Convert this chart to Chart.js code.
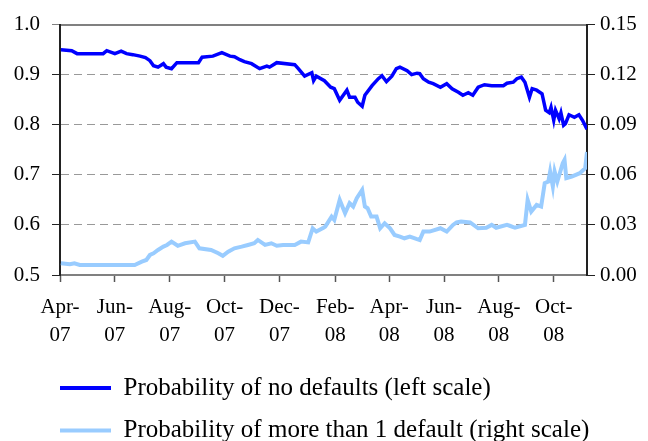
<!DOCTYPE html>
<html>
<head>
<meta charset="utf-8">
<script src="https://cdn.jsdelivr.net/npm/chart.js@4.4.1/dist/chart.umd.min.js"></script>
<style>
    html, body { margin: 0; padding: 0; background: #fff; }
    #wrap { width: 648px; height: 441px; }
</style>
</head>
<body>
<div id="wrap"><canvas id="prob-chart"></canvas></div>
<script>
// Probability of no defaults (left scale)
const noDefaultDates = [
    '2007-04-02', '2007-04-14', '2007-04-20', '2007-05-19', '2007-05-23', '2007-06-01', '2007-06-08',
    '2007-06-14', '2007-06-21', '2007-06-29', '2007-07-05', '2007-07-10', '2007-07-14', '2007-07-19',
    '2007-07-25', '2007-07-28', '2007-08-03', '2007-08-09', '2007-09-02', '2007-09-06', '2007-09-18',
    '2007-09-28', '2007-10-07', '2007-10-12', '2007-10-18', '2007-10-23', '2007-10-31', '2007-11-09',
    '2007-11-17', '2007-11-20', '2007-11-28', '2007-12-18', '2007-12-22', '2007-12-29', '2008-01-06',
    '2008-01-08', '2008-01-11', '2008-01-20', '2008-01-27', '2008-01-31', '2008-02-06', '2008-02-14',
    '2008-02-17', '2008-02-23', '2008-02-26', '2008-03-02', '2008-03-05', '2008-03-13', '2008-03-20',
    '2008-03-24', '2008-03-29', '2008-04-04', '2008-04-09', '2008-04-13', '2008-04-21', '2008-04-26',
    '2008-05-02', '2008-05-05', '2008-05-09', '2008-05-15', '2008-05-20', '2008-05-28', '2008-06-04',
    '2008-06-10', '2008-06-17', '2008-06-22', '2008-06-28', '2008-07-03', '2008-07-09', '2008-07-16',
    '2008-07-24', '2008-08-06', '2008-08-10', '2008-08-17', '2008-08-21', '2008-08-26', '2008-08-30',
    '2008-09-04', '2008-09-07', '2008-09-12', '2008-09-18', '2008-09-22', '2008-09-26', '2008-09-28',
    '2008-10-01', '2008-10-03', '2008-10-07', '2008-10-09', '2008-10-12', '2008-10-14', '2008-10-18',
    '2008-10-24', '2008-10-29', '2008-11-02', '2008-11-07'
];
const noDefaultValues = [
    0.950, 0.948, 0.942, 0.942, 0.948, 0.942, 0.947,
    0.942, 0.940, 0.937, 0.934, 0.928, 0.918, 0.915,
    0.922, 0.915, 0.912, 0.924, 0.924, 0.935, 0.937,
    0.944, 0.937, 0.936, 0.930, 0.926, 0.922, 0.912,
    0.917, 0.915, 0.924, 0.920, 0.912, 0.897, 0.904,
    0.888, 0.897, 0.888, 0.875, 0.872, 0.849, 0.869,
    0.855, 0.855, 0.845, 0.837, 0.859, 0.878, 0.892,
    0.898, 0.886, 0.897, 0.912, 0.915, 0.908, 0.900,
    0.903, 0.902, 0.892, 0.885, 0.882, 0.875, 0.882,
    0.872, 0.865, 0.859, 0.864, 0.859, 0.875, 0.880,
    0.878, 0.878, 0.883, 0.885, 0.892, 0.895, 0.885,
    0.855, 0.872, 0.869, 0.862, 0.829, 0.824, 0.835,
    0.809, 0.829, 0.812, 0.824, 0.799, 0.802, 0.820,
    0.815, 0.820, 0.809, 0.791
];

// Probability of more than 1 default (right scale)
const moreDefaultDates = [
    '2007-04-02', '2007-04-12', '2007-04-17', '2007-04-23', '2007-06-23', '2007-07-01', '2007-07-06',
    '2007-07-10', '2007-07-14', '2007-07-19', '2007-07-25', '2007-07-29', '2007-08-03', '2007-08-10',
    '2007-08-18', '2007-08-29', '2007-09-03', '2007-09-16', '2007-09-24', '2007-09-29', '2007-10-05',
    '2007-10-12', '2007-10-20', '2007-10-27', '2007-11-03', '2007-11-07', '2007-11-15', '2007-11-22',
    '2007-11-28', '2007-12-05', '2007-12-18', '2007-12-25', '2008-01-02', '2008-01-07', '2008-01-11',
    '2008-01-19', '2008-01-21', '2008-01-28', '2008-01-31', '2008-02-06', '2008-02-12', '2008-02-17',
    '2008-02-21', '2008-02-25', '2008-03-02', '2008-03-05', '2008-03-08', '2008-03-12', '2008-03-18',
    '2008-03-22', '2008-03-27', '2008-04-02', '2008-04-07', '2008-04-13', '2008-04-18', '2008-04-24',
    '2008-05-02', '2008-05-05', '2008-05-09', '2008-05-16', '2008-05-28', '2008-06-04', '2008-06-11',
    '2008-06-15', '2008-06-20', '2008-06-30', '2008-07-09', '2008-07-18', '2008-07-24', '2008-07-29',
    '2008-08-10', '2008-08-13', '2008-08-19', '2008-08-30', '2008-09-02', '2008-09-06', '2008-09-12',
    '2008-09-17', '2008-09-21', '2008-09-25', '2008-09-27', '2008-09-30', '2008-10-02', '2008-10-05',
    '2008-10-08', '2008-10-11', '2008-10-13', '2008-10-15', '2008-10-21', '2008-10-30', '2008-11-05',
    '2008-11-07'
];
const moreDefaultValues = [
    0.0070, 0.0064, 0.0070, 0.0060, 0.0060, 0.0080, 0.0090,
    0.0120, 0.0130, 0.0150, 0.0170, 0.0180, 0.0200, 0.0175,
    0.0190, 0.0200, 0.0160, 0.0150, 0.0130, 0.0115, 0.0140,
    0.0160, 0.0170, 0.0180, 0.0190, 0.0210, 0.0180, 0.0190,
    0.0175, 0.0180, 0.0180, 0.0200, 0.0195, 0.0280, 0.0260,
    0.0283, 0.0290, 0.0350, 0.0330, 0.0450, 0.0370, 0.0430,
    0.0410, 0.0460, 0.0510, 0.0410, 0.0400, 0.0350, 0.0350,
    0.0280, 0.0310, 0.0280, 0.0240, 0.0230, 0.0220, 0.0230,
    0.0215, 0.0210, 0.0260, 0.0260, 0.0280, 0.0260, 0.0300,
    0.0315, 0.0320, 0.0315, 0.0280, 0.0283, 0.0300, 0.0283,
    0.0300, 0.0295, 0.0283, 0.0300, 0.0450, 0.0380, 0.0420,
    0.0410, 0.0550, 0.0560, 0.0620, 0.0530, 0.0620, 0.0560,
    0.0614, 0.0670, 0.0690, 0.0580, 0.0590, 0.0610, 0.0640,
    0.0737
];

// X axis ticks (every two months) and their two-line labels
const tickDates = [
    '2007-04-01', '2007-06-01', '2007-08-01', '2007-10-01', '2007-12-01',
    '2008-02-01', '2008-04-01', '2008-06-01', '2008-08-01', '2008-10-01'
];
const tickLabels = [
    ['Apr-', '07'], ['Jun-', '07'], ['Aug-', '07'], ['Oct-', '07'], ['Dec-', '07'],
    ['Feb-', '08'], ['Apr-', '08'], ['Jun-', '08'], ['Aug-', '08'], ['Oct-', '08']
];
const startDate = '2007-04-01';
const endDate = '2008-11-07';

const seriesLabels = [
    'Probability of no defaults (left scale)',
    'Probability of more than 1 default (right scale)'
];

// Days elapsed since the start of the axis
const dayOf = (s) => {
    const [y, m, d] = s.split('-').map(Number);
    const [y0, m0, d0] = startDate.split('-').map(Number);
    return (Date.UTC(y, m - 1, d) - Date.UTC(y0, m0 - 1, d0)) / 86400000;
};

const toPoints = (dates, values) => dates.map((d, i) => ({ x: dayOf(d), y: values[i] }));

// Move the legend block so its rows line up under the plot's left edge
const legendShift = {
    id: 'legendShift',
    afterLayout(chart) {
        const lg = chart.legend;
        lg.left += 42.5;
        lg.right += 42.5;
        lg.top += 12;
        lg.bottom += 12;
    }
};

Chart.defaults.font.family = '"Liberation Serif", "Times New Roman", serif';
Chart.defaults.color = '#000';

const ctx = document.getElementById('prob-chart').getContext('2d');

new Chart(ctx, {
    type: 'line',
    data: {
        datasets: [
            {
                label: seriesLabels[0],
                data: toPoints(noDefaultDates, noDefaultValues),
                borderColor: '#0000ff',
                backgroundColor: '#0000ff',
                borderWidth: 3.5,
                pointRadius: 0,
                tension: 0,
                fill: false,
                yAxisID: 'y'
            },
            {
                label: seriesLabels[1],
                data: toPoints(moreDefaultDates, moreDefaultValues),
                borderColor: '#99ccff',
                backgroundColor: '#99ccff',
                borderWidth: 4,
                pointRadius: 0,
                tension: 0,
                fill: false,
                yAxisID: 'y1'
            }
        ]
    },
    plugins: [legendShift],
    options: {
        responsive: true,
        maintainAspectRatio: false,
        animation: false,
        layout: { padding: { top: 24, left: 0, right: 0, bottom: 0 } },
        scales: {
            x: {
                type: 'linear',
                position: 'bottom',
                min: 0,
                max: dayOf(endDate),
                afterBuildTicks: (scale) => {
                    scale.ticks = tickDates.map(d => ({ value: dayOf(d) }));
                },
                afterFit: (scale) => { scale.height = 71; },
                grid: { drawOnChartArea: false, tickLength: 7, tickColor: '#555', tickWidth: 1.5 },
                border: { color: '#808080', width: 2 },
                ticks: {
                    autoSkip: false,
                    maxRotation: 0,
                    padding: 12,
                    font: { size: 21, lineHeight: 1.33 },
                    callback: (value, index) => tickLabels[index]
                }
            },
            xTop: {
                type: 'linear',
                position: 'top',
                min: 0,
                max: 1,
                afterFit: (scale) => { scale.height = 0; },
                grid: { drawOnChartArea: false, drawTicks: false },
                border: { color: '#808080', width: 2 },
                ticks: { display: false }
            },
            y: {
                position: 'left',
                min: 0.5,
                max: 1.0,
                afterFit: (scale) => { scale.width = 60; },
                ticks: {
                    stepSize: 0.1,
                    padding: 12,
                    font: { size: 21 },
                    callback: (v) => v.toFixed(1)
                },
                grid: {
                    tickLength: 8,
                    color: (c) => (c.tick && c.tick.value > 0.55 && c.tick.value < 0.95) ? '#999' : 'transparent',
                    tickColor: (c) => (c.tick && c.tick.value > 0.95) ? '#808080' : '#222'
                },
                border: { color: '#222', width: 2, dash: [8, 5] }
            },
            y1: {
                position: 'right',
                min: 0,
                max: 0.15,
                afterFit: (scale) => { scale.width = 61; },
                ticks: {
                    stepSize: 0.03,
                    padding: 5,
                    font: { size: 21 },
                    callback: (v) => v.toFixed(2)
                },
                grid: { drawOnChartArea: false, tickLength: 8, tickColor: '#222' },
                border: { color: '#222', width: 2 }
            }
        },
        plugins: {
            legend: {
                position: 'bottom',
                align: 'start',
                labels: {
                    boxWidth: 51,
                    boxHeight: 4,
                    padding: 17.5,
                    font: { size: 25 },
                    color: '#000',
                    generateLabels: (chart) =>
                        Chart.defaults.plugins.legend.labels.generateLabels(chart).map(l => ({ ...l, lineWidth: 0 }))
                }
            },
            tooltip: { enabled: false }
        }
    }
});
</script>
</body>
</html>
